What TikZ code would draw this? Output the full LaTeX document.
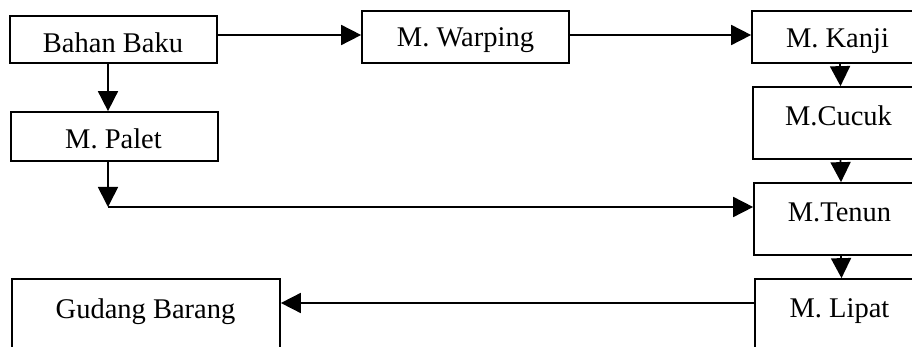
\documentclass[tikz,border=0pt]{standalone}
\usepackage{fontspec}
\setmainfont{Liberation Serif}
\usetikzlibrary{arrows.meta}
\begin{document}
\begin{tikzpicture}[x=1pt,y=-1pt,
  box/.style={draw, line width=1.7pt, inner sep=0pt, rectangle},
  lbl/.style={anchor=base, inner sep=0pt, font=\fontsize{28.5}{32}\selectfont},
  arr/.style={line width=1.7pt, -{Triangle[length=20pt,width=20pt]}},
  ln/.style={line width=1.7pt}
  ]
\useasboundingbox (0,0) rectangle (912,347);
\clip (0,0) rectangle (912,347);
% boxes
\node[box, minimum width=207pt, minimum height=47pt] (bahan)   at (113.5,39.5) {};
\node[box, minimum width=207pt, minimum height=49pt] (palet)   at (114.5,136.5) {};
\node[box, minimum width=207pt, minimum height=52pt] (warping) at (465.5,37) {};
\node[box, minimum width=176pt, minimum height=52pt] (kanji)   at (840,37) {};
\node[box, minimum width=175pt, minimum height=72pt] (cucuk)   at (840.5,123) {};
\node[box, minimum width=174pt, minimum height=72pt] (tenun)   at (841,219) {};
\node[box, minimum width=173pt, minimum height=72pt] (lipat)   at (841.5,315) {};
\node[box, minimum width=268pt, minimum height=72pt] (gudang)  at (146,315) {};
% labels
\node[lbl] (tbahan)   at (113,53)    {Bahan Baku};
\node[lbl] (tpalet)   at (113.5,149) {M. Palet};
\node[lbl] (twarping) at (465.5,47)  {M. Warping};
\node[lbl] (tkanji)   at (837.5,48)  {M. Kanji};
\node[lbl] (tcucuk)   at (838.5,126) {M.Cucuk};
\node[lbl] (ttenun)   at (839.5,222) {M.Tenun};
\node[lbl] (tlipat)   at (839.5,317) {M. Lipat};
\node[lbl] (tgudang)  at (145.5,318) {Gudang Barang};
% helper coordinates
\coordinate (ty) at (0,35);
\coordinate (corner) at (108,207);
\coordinate (gy) at (0,303);
% connectors
\draw[arr] (bahan.east |- ty) -- (warping.west |- ty);
\draw[arr] (warping.east |- ty) -- (kanji.west |- ty);
\draw[arr] (bahan.south -| corner) -- (palet.north -| corner);
\draw[arr] (palet.south -| corner) -- (corner);
\draw[arr] (corner) -- (tenun.west |- corner);
\draw[arr] (kanji.south) -- (cucuk.north);
\draw[arr] (cucuk.south) -- (tenun.north);
\draw[arr] (tenun.south) -- (lipat.north);
\draw[arr] (lipat.west |- gy) -- (gudang.east |- gy);
\end{tikzpicture}
\end{document}
